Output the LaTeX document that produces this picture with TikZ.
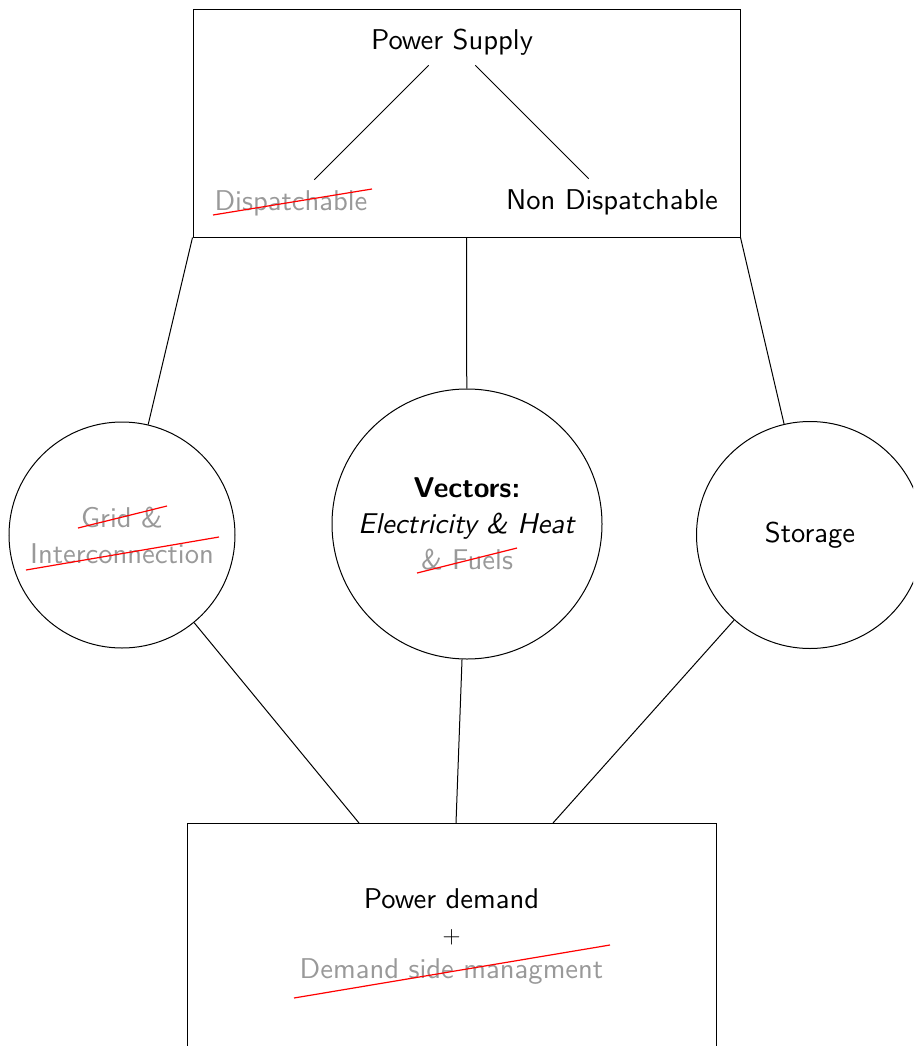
\documentclass[tikz,border=0pt]{standalone}
\usepackage{fontspec}
\setsansfont{lmsans10-regular.otf}[BoldFont=lmsans10-bold.otf, ItalicFont=lmsans10-oblique.otf, BoldItalicFont=lmsans10-boldoblique.otf]
\begin{document}
\begin{tikzpicture}[x=1pt,y=-1pt,
  every node/.style={font=\fontsize{28.6}{36}\selectfont\sffamily},
  box/.style={draw, line width=1pt, inner sep=0pt},
  ring/.style={draw, circle, line width=1pt, inner sep=0pt, align=center},
  conn/.style={line width=1pt},
  strike/.style={red, line width=1.2pt},
  faded/.style={text=black!40}]
\clip (0,0) rectangle (913,1046);
% top box
\node[box, minimum width=547pt, minimum height=227pt] (top) at (466.5,123.5) {};
\node (ps) at (452,42) {Power Supply};
\node[faded] (disp) at (291,203) {Dispatchable};
\node (ndisp) at (612,202) {Non Dispatchable};
\draw[conn, shorten <=33pt, shorten >=33pt] (ps.center) -- (disp.center);
\draw[conn, shorten <=33pt, shorten >=33pt] (ps.center) -- (ndisp.center);
\draw[strike] (213,215) -- (372,189);
% circles
\node[ring, minimum size=226pt] (grid) at (122,535) {\textcolor{black!40}{Grid \&}\\\textcolor{black!40}{Interconnection}};
\node[ring, minimum size=270pt] (vec) at (467,524) {\textbf{Vectors:}\\\textit{Electricity \& Heat}\\\textcolor{black!40}{\& Fuels}};
\node[ring, minimum size=227pt] (stor) at (810,535) {Storage};
\draw[strike] (78,528) -- (167,506);
\draw[strike] (26,570) -- (219,537);
\draw[strike] (417,573) -- (517,548);
% bottom box
\node[box, minimum width=529pt, minimum height=227pt, align=center] (bot) at (451.5,936.5) {Power demand\\[-1pt]$+$\\[-1pt]\textcolor{black!40}{Demand side managment}};
\draw[strike] (294,998) -- (610,945);
\coordinate (b1) at (359,823);
\coordinate (b2) at (456,823);
\coordinate (b3) at (553,823);
% connectors
\draw[conn] (top.south west) -- (grid);
\draw[conn] (top.south) -- (vec);
\draw[conn] (top.south east) -- (stor);
\draw[conn] (grid) -- (b1);
\draw[conn] (vec) -- (b2);
\draw[conn] (stor) -- (b3);
\end{tikzpicture}
\end{document}
